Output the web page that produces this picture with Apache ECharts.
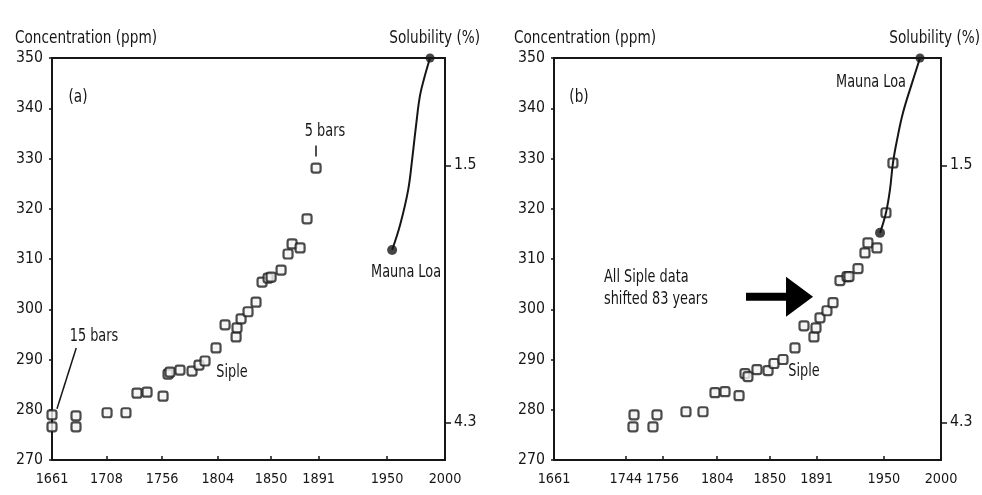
<!DOCTYPE html>
<html><head><meta charset="utf-8">
<script src="https://cdn.jsdelivr.net/npm/echarts@6/dist/echarts.min.js"></script>
<style>html,body{margin:0;padding:0;background:#fff}#c{width:982px;height:495px}</style>
</head><body><div id="c"></div><script>
// ---- data ----
// Panel (a): Siple ice-core points
const sipleYearsA = [1661.0,1661.0,1681.7,1681.7,1708.5,1724.8,1734.3,1743.0,1756.8,1761.1,1762.8,1771.4,1781.8,1787.8,1793.0,1802.5,1810.3,1819.8,1820.6,1824.1,1830.1,1837.0,1842.2,1847.4,1850.0,1858.6,1864.6,1868.1,1875.0,1881.0,1888.8];
const siplePpmA   = [279.0,276.6,278.8,276.6,279.4,279.4,283.3,283.5,282.7,287.1,287.5,287.9,287.7,288.9,289.7,292.3,296.9,294.5,296.3,298.1,299.5,301.4,305.4,306.2,306.4,307.8,311.0,313.0,312.2,318.0,328.1];
// Panel (a): Mauna Loa curve
const mlYearsA = [1954.4,1961.3,1968.2,1971.6,1975.1,1978.5,1982.8,1987.1];
const mlPpmA   = [311.8,316.8,323.7,329.7,336.7,342.6,346.6,350.0];
// Panel (b): Siple points shifted
const sipleYearsB = [1730.2,1731.1,1747.7,1751.2,1776.6,1791.5,1802.0,1810.8,1823.1,1828.3,1830.9,1838.8,1848.5,1853.7,1861.6,1872.1,1880.0,1888.7,1890.5,1894.0,1900.1,1905.4,1911.5,1917.7,1919.4,1927.3,1933.4,1936.0,1943.9,1951.8,1957.9];
const siplePpmB   = [276.6,279.0,276.6,279.0,279.6,279.6,283.4,283.6,282.8,287.2,286.6,288.0,287.8,289.2,290.0,292.3,296.7,294.5,296.3,298.3,299.7,301.3,305.7,306.5,306.5,308.1,311.2,313.2,312.2,319.2,329.1];
// Panel (b): Mauna Loa curve
const mlYearsB = [1946.6,1951.8,1955.3,1957.9,1961.5,1966.7,1974.6,1981.6];
const mlPpmB   = [315.2,319.2,323.8,329.1,333.7,339.1,345.0,350.0];
// tick labels (panel b's "1744" label sits where the original figure printed it)
const xTickValsA   = [1661,1708,1756,1804,1850,1891,1950,2000];
const xTickValsB   = [1661,1724,1756,1804,1850,1891,1950,2000];
const xTickLabelsB = ['1661','1744','1756','1804','1850','1891','1950','2000'];
const solTicks = [1.5, 4.3];

// ---- font detection: prefer a narrow face like the original ----
const cv = document.createElement('canvas').getContext('2d');
function w(font, txt){ cv.font = font; return cv.measureText(txt).width; }
function has(name){
  const s = 'Concentration 1744 Wmi';
  return w('100px "'+name+'", monospace', s) !== w('100px monospace', s) ||
         w('100px "'+name+'", serif', s) !== w('100px serif', s);
}
const candidates = ['Liberation Sans Narrow','Arial Narrow','DejaVu Sans Condensed','Liberation Sans'];
const FAM = candidates.find(has) || 'Liberation Sans';
const FONT = '"'+FAM+'","Liberation Sans",Arial,sans-serif';
const digitEm = w('100px '+FONT, '0000') / 400;          // em width of one digit
const Y_SIZE = Math.min(19, Math.round(9.0 / digitEm * 10) / 10);
const X_SIZE = Math.min(19, Math.round(8.2 / digitEm * 10) / 10);
const SX = Math.min(1, 142 / w('18px '+FONT, 'Concentration (ppm)')); // squeeze for free texts

const INK = '#161616';
const chart = echarts.init(document.getElementById('c'), null, {renderer:'canvas'});
const zip = (xs, ys) => xs.map((x,i)=>[x, ys[i]]);

function xAxis(g, vals, labels){
  return {gridIndex:g, type:'value', min:1661, max:2000,
    axisLine:{show:true, lineStyle:{color:INK, width:2}},
    axisTick:{show:true, inside:true, length:4, customValues:vals, lineStyle:{color:INK, width:1.5}},
    axisLabel:{customValues:vals, color:INK, fontSize:X_SIZE, fontFamily:FONT, margin:12,
      formatter: labels ? (v => labels[vals.indexOf(v)]) : (v => String(v))},
    splitLine:{show:false}};
}
function yLeft(g){
  return {gridIndex:g, type:'value', min:270, max:350, interval:10, position:'left',
    axisLine:{show:true, lineStyle:{color:INK, width:2}},
    axisTick:{show:true, length:3, lineStyle:{color:INK, width:1.5}},
    axisLabel:{color:INK, fontSize:Y_SIZE, fontFamily:FONT, margin:9},
    splitLine:{show:false}};
}
function yRight(g){
  return {gridIndex:g, type:'value', min:0.33, max:4.71, inverse:true, position:'right',
    axisLine:{show:true, lineStyle:{color:INK, width:2}},
    axisTick:{show:true, length:6, customValues:solTicks, lineStyle:{color:INK, width:1.5}},
    axisLabel:{customValues:solTicks, color:INK, fontSize:Y_SIZE, fontFamily:FONT, margin:9,
      formatter: v => v.toFixed(1)},
    splitLine:{show:false}};
}
const sqStyle = {color:'#f2f2f2', borderColor:'#1e1e1e', borderWidth:2.2};
function siple(xi, yi, xs, ys){
  return {type:'scatter', xAxisIndex:xi, yAxisIndex:yi, data:zip(xs, ys), symbol:'roundRect',
    symbolSize:9, itemStyle:sqStyle, clip:false, z:3, silent:true};
}
function ml(xi, yi, xs, ys){
  return [
    {type:'line', xAxisIndex:xi, yAxisIndex:yi, data:zip(xs, ys), smooth:0.4, symbol:'none',
      lineStyle:{color:INK, width:2}, clip:false, z:4, silent:true},
    {type:'scatter', xAxisIndex:xi, yAxisIndex:yi, clip:false, z:5, silent:true,
      data:[{value:[xs[0], ys[0]], symbolSize:10}, {value:[xs[xs.length-1], ys[ys.length-1]], symbolSize:9}],
      itemStyle:{color:INK}}
  ];
}
const arrowLine = (from, to, size) => ({silent:true, symbol:['none','arrow'], symbolSize:size,
  label:{show:false}, lineStyle:{color:INK, width:1.5, type:'solid'},
  data:[[{coord:from}, {coord:to}]]});

const option = {
  animation:false,
  backgroundColor:'#fff',
  grid:[
    {left:52, top:58, width:393, height:402, show:true, borderColor:INK, borderWidth:2},
    {left:554, top:58, width:387, height:402, show:true, borderColor:INK, borderWidth:2}
  ],
  xAxis:[xAxis(0, xTickValsA), xAxis(1, xTickValsB, xTickLabelsB)],
  yAxis:[yLeft(0), yRight(0), yLeft(1), yRight(1)],
  series:[
    siple(0, 0, sipleYearsA, siplePpmA),
    ...ml(0, 0, mlYearsA, mlPpmA),
    siple(1, 2, sipleYearsB, siplePpmB),
    ...ml(1, 2, mlYearsB, mlPpmB),
    // annotation arrows (panel a)
    {type:'scatter', xAxisIndex:0, yAxisIndex:0, data:[], markLine:arrowLine([1681.9,292.3],[1665.3,280.2],[0,8])},
    {type:'scatter', xAxisIndex:0, yAxisIndex:0, data:[], markLine:arrowLine([1888.8,332.6],[1888.8,330.4],[0,5])}
  ]
};
chart.setOption(option);

// ---- text annotations anchored at data coordinates ----
const annotA = [
  {t:'(a)', at:[1683.4,342.2], size:18},
  {t:'5 bars', at:[1896.5,335.3], size:17},
  {t:'15 bars', at:[1697.2,294.5], size:17},
  {t:'Siple', at:[1816.3,287.3], size:17},
  {t:'Mauna Loa', at:[1966.4,307.2], size:17}
];
const annotB = [
  {t:'(b)', at:[1682.9,342.2], size:18},
  {t:'Mauna Loa', at:[1938.7,345.2], size:17},
  {t:'Siple', at:[1880.0,287.6], size:17}
];
const noteB = {t:'All Siple data\nshifted 83 years', at:[1704.8,304.1]};
const bigArrowB = {tail:[1829.2,302.5], tip:[1887.9,302.5]};

const g = [];
function addText(grid, a, align){
  const p = chart.convertToPixel({gridIndex:grid}, a.at);
  g.push({type:'text', x:p[0], y:p[1], scaleX:SX, silent:true, z:10,
    style:{text:a.t, fill:INK, font:(a.size||17)+'px '+FONT, align:align||'center', verticalAlign:'middle', lineHeight:22}});
}
annotA.forEach(a => addText(0, a));
annotB.forEach(a => addText(1, a));
addText(1, {t:noteB.t, at:noteB.at, size:17}, 'left');
// big arrow
(function(){
  const t = chart.convertToPixel({gridIndex:1}, bigArrowB.tail);
  const h = chart.convertToPixel({gridIndex:1}, bigArrowB.tip);
  const headLen = 27, headHalf = 20, shaftHalf = 4;
  const bx = h[0] - headLen, cy = t[1];
  g.push({type:'polygon', silent:true, z:10, shape:{points:[
    [t[0], cy-shaftHalf],[bx, cy-shaftHalf],[bx, cy-headHalf],[h[0], cy],[bx, cy+headHalf],[bx, cy+shaftHalf],[t[0], cy+shaftHalf]
  ]}, style:{fill:'#000'}});
})();
// axis titles
[[15, 'left', 'Concentration (ppm)'], [480, 'right', 'Solubility (%)'],
 [514, 'left', 'Concentration (ppm)'], [980, 'right', 'Solubility (%)']].forEach(([x, al, txt]) => {
  g.push({type:'text', x:x, y:38, scaleX:SX, silent:true,
    style:{text:txt, fill:INK, font:'18px '+FONT, align:al, verticalAlign:'middle'}});
});
chart.setOption({graphic:g});
</script></body></html>
